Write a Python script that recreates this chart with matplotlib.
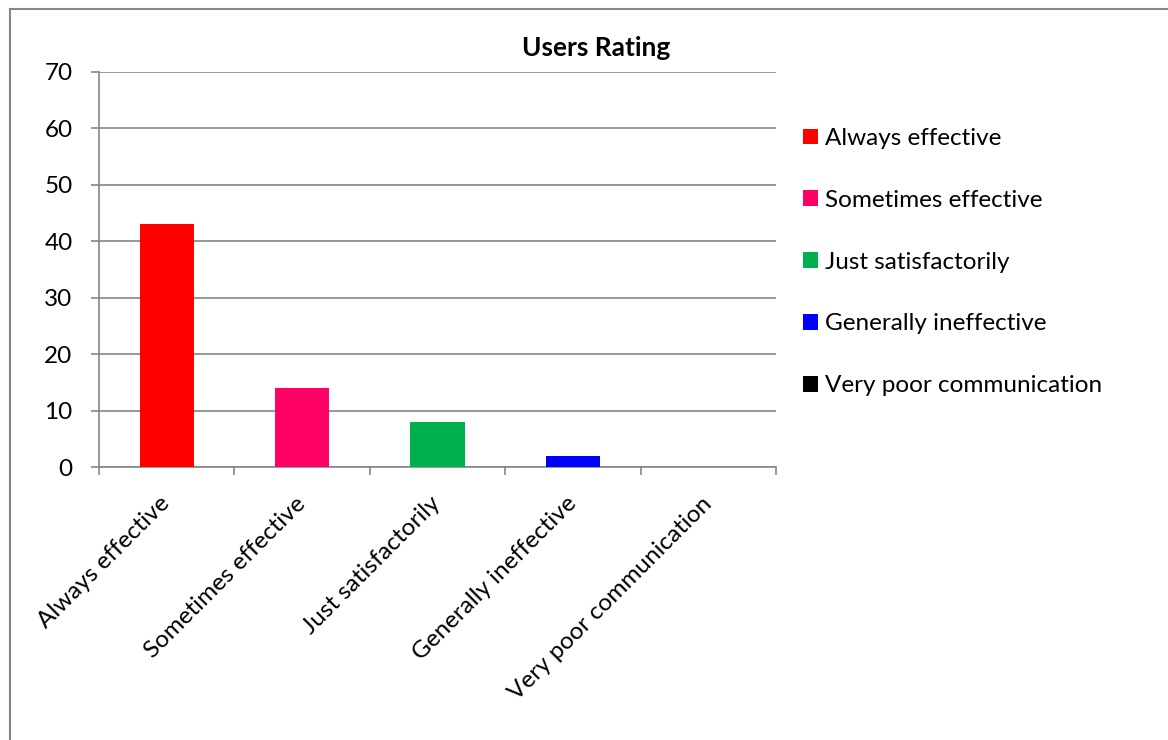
import numpy as np
import matplotlib.pyplot as plt
from matplotlib.patches import Rectangle, Patch

# data
categories = ['Always effective', 'Sometimes effective', 'Just satisfactorily',
              'Generally ineffective', 'Very poor communication']
ratings = [43, 14, 8, 2, 0]
colors = ['#FF0000', '#FF0066', '#00B050', '#0000FF', '#000000']
yticks = [0, 10, 20, 30, 40, 50, 60, 70]

plt.rcParams['font.family'] = ['Lato', 'DejaVu Sans']
fs = 17.5
grey = '#868686'

fig = plt.figure(figsize=(11.68, 7.4), dpi=100)
ax = fig.add_axes([99/1168, 1-467/740, 677/1168, 395/740])

x = np.arange(len(categories))
ax.bar(x, ratings, width=0.4, color=colors, zorder=3)

ax.set_xlim(-0.5, len(categories)-0.5)
ax.set_ylim(0, 70)
ax.set_yticks(yticks)
ax.tick_params(axis='y', length=6, width=1.2, color=grey, pad=13, labelsize=fs)
ax.yaxis.grid(True, color=grey, linewidth=1.2, zorder=0)

# ticks at boundaries, labels at centers
ax.set_xticks(np.arange(-0.5, len(categories)))
ax.set_xticklabels([])
ax.tick_params(axis='x', which='major', length=6, width=1.2, color=grey)
ax.set_xticks(x, minor=True)
ax.set_xticklabels(categories, minor=True, rotation=45, ha='right', va='center',
                   rotation_mode='anchor', fontsize=fs)
ax.tick_params(axis='x', which='minor', length=0, pad=24)

for s in ['top', 'right']:
    ax.spines[s].set_visible(False)
for s in ['left', 'bottom']:
    ax.spines[s].set_color(grey)
    ax.spines[s].set_linewidth(1.2)

fig.text(596/1168, 1-48/740, 'Users Rating', ha='center', va='center',
         fontsize=19, fontweight='bold')

handles = [Patch(facecolor=c, edgecolor='none') for c in colors]
fig.legend(handles, categories, loc='upper left',
           bbox_to_anchor=(803/1168, 1-128/740), frameon=False, fontsize=fs,
           handlelength=0.62, handleheight=0.62, handletextpad=0.3,
           labelspacing=1.68, borderpad=0, borderaxespad=0)

# chart frame
fig.patches.append(Rectangle((10/1168, -0.1), 1.2, 1.1-9/740, transform=fig.transFigure,
                             fill=False, edgecolor=grey, linewidth=1.5))

fig.savefig('out.png', dpi=100)
